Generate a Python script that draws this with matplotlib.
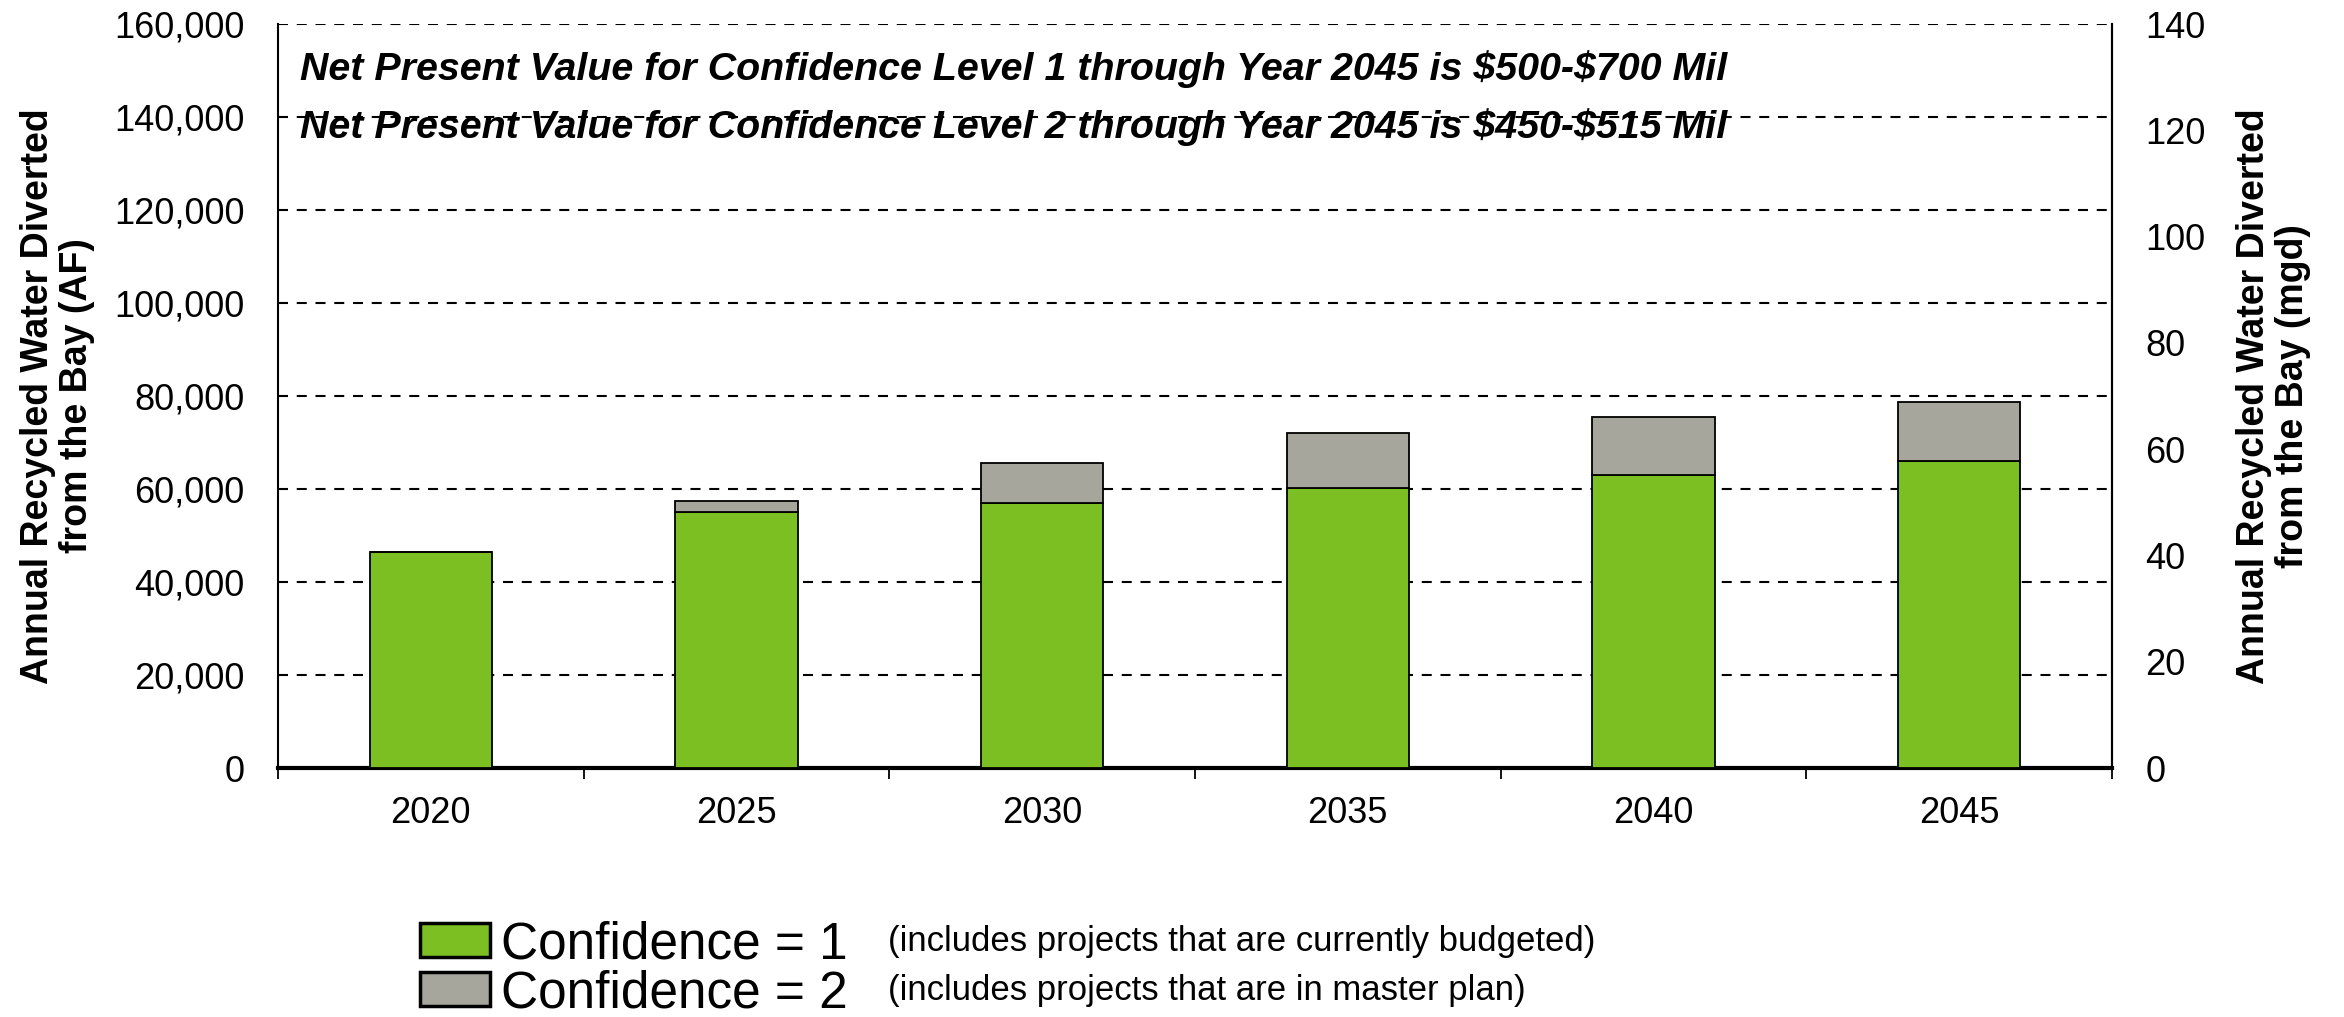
import matplotlib
matplotlib.use("Agg")
import matplotlib.pyplot as plt
from matplotlib.patches import Patch

years = ["2020", "2025", "2030", "2035", "2040", "2045"]
conf1 = [46500, 55000, 57000, 60200, 63000, 66000]
conf2 = [0, 2500, 8500, 11800, 12500, 12800]
conf1_color = "#7bbf22"
conf2_color = "#a6a69c"

font = ["Liberation Sans", "DejaVu Sans"]

fig = plt.figure(figsize=(23.44, 10.17), dpi=100)
ax = fig.add_axes([0.1186, 0.2448, 0.7824, 0.7316])

x = list(range(len(years)))
ax.bar(x, conf1, width=0.4, color=conf1_color, edgecolor="black", linewidth=1.3, zorder=3)
ax.bar(x, conf2, width=0.4, bottom=conf1, color=conf2_color, edgecolor="black", linewidth=1.3, zorder=3)

ax.set_xlim(-0.5, len(years) - 0.5)
ax.set_ylim(0, 160000)
ax.set_yticks(range(0, 160001, 20000))
ax.set_yticklabels([f"{v:,}" for v in range(0, 160001, 20000)], family=font, fontsize=26)
for v in range(20000, 160001, 20000):
    ax.axhline(v, color="black", linewidth=1.5, linestyle=(0, (4.8, 4.2)), zorder=1)

# category labels at the bar centres, tick marks between the bars
ax.set_xticks(x)
ax.set_xticklabels(years, family=font, fontsize=26)
ax.tick_params(axis="x", which="major", length=0, pad=20)
ax.set_xticks([i - 0.5 for i in range(len(years) + 1)], minor=True)
ax.tick_params(axis="x", which="minor", length=8, width=1.3, direction="out")
ax.tick_params(axis="y", length=0, pad=24)

ax.spines["top"].set_visible(False)
ax.spines["right"].set_linewidth(1.5)
ax.spines["left"].set_linewidth(1.5)
ax.spines["bottom"].set_linewidth(3)

ax.set_ylabel("Annual Recycled Water Diverted\nfrom the Bay (AF)", family=font,
              fontweight="bold", fontsize=27, labelpad=14, linespacing=1.1)

ax2 = ax.twinx()
ax2.set_ylim(0, 140)
ax2.set_yticks(range(0, 141, 20))
ax2.set_yticklabels([str(v) for v in range(0, 141, 20)], family=font, fontsize=26)
ax2.tick_params(axis="y", length=0, pad=24)
for s in ["top", "left", "bottom"]:
    ax2.spines[s].set_visible(False)
ax2.spines["right"].set_linewidth(1.5)
ax2.set_ylabel("Annual Recycled Water Diverted\nfrom the Bay (mgd)", family=font,
               fontweight="bold", fontsize=27, labelpad=22, linespacing=1.1)

npv1 = r"Net Present Value for Confidence Level 1 through Year 2045 is \$500-\$700 Mil"
npv2 = r"Net Present Value for Confidence Level 2 through Year 2045 is \$450-\$515 Mil"
ax.text(0.012, 0.940, npv1, transform=ax.transAxes, family=font, fontweight="bold",
        style="italic", fontsize=28.4, va="center", ha="left", zorder=5)
ax.text(0.012, 0.862, npv2, transform=ax.transAxes, family=font, fontweight="bold",
        style="italic", fontsize=28.4, va="center", ha="left", zorder=5)

handles = [Patch(facecolor=conf1_color, edgecolor="black", linewidth=2.5),
           Patch(facecolor=conf2_color, edgecolor="black", linewidth=2.5)]
fig.legend(handles, ["Confidence = 1", "Confidence = 2"], loc="upper left",
           bbox_to_anchor=(0.179, 0.095), frameon=False,
           prop={"family": font, "size": 37}, handlelength=1.38, handleheight=0.64,
           handletextpad=0.2, labelspacing=0.0, borderpad=0, borderaxespad=0)
fig.text(0.379, 0.074, "(includes projects that are currently budgeted)",
         family=font, fontsize=25, va="center", ha="left")
fig.text(0.379, 0.026, "(includes projects that are in master plan)",
         family=font, fontsize=25, va="center", ha="left")

fig.savefig("out.png", dpi=100)
